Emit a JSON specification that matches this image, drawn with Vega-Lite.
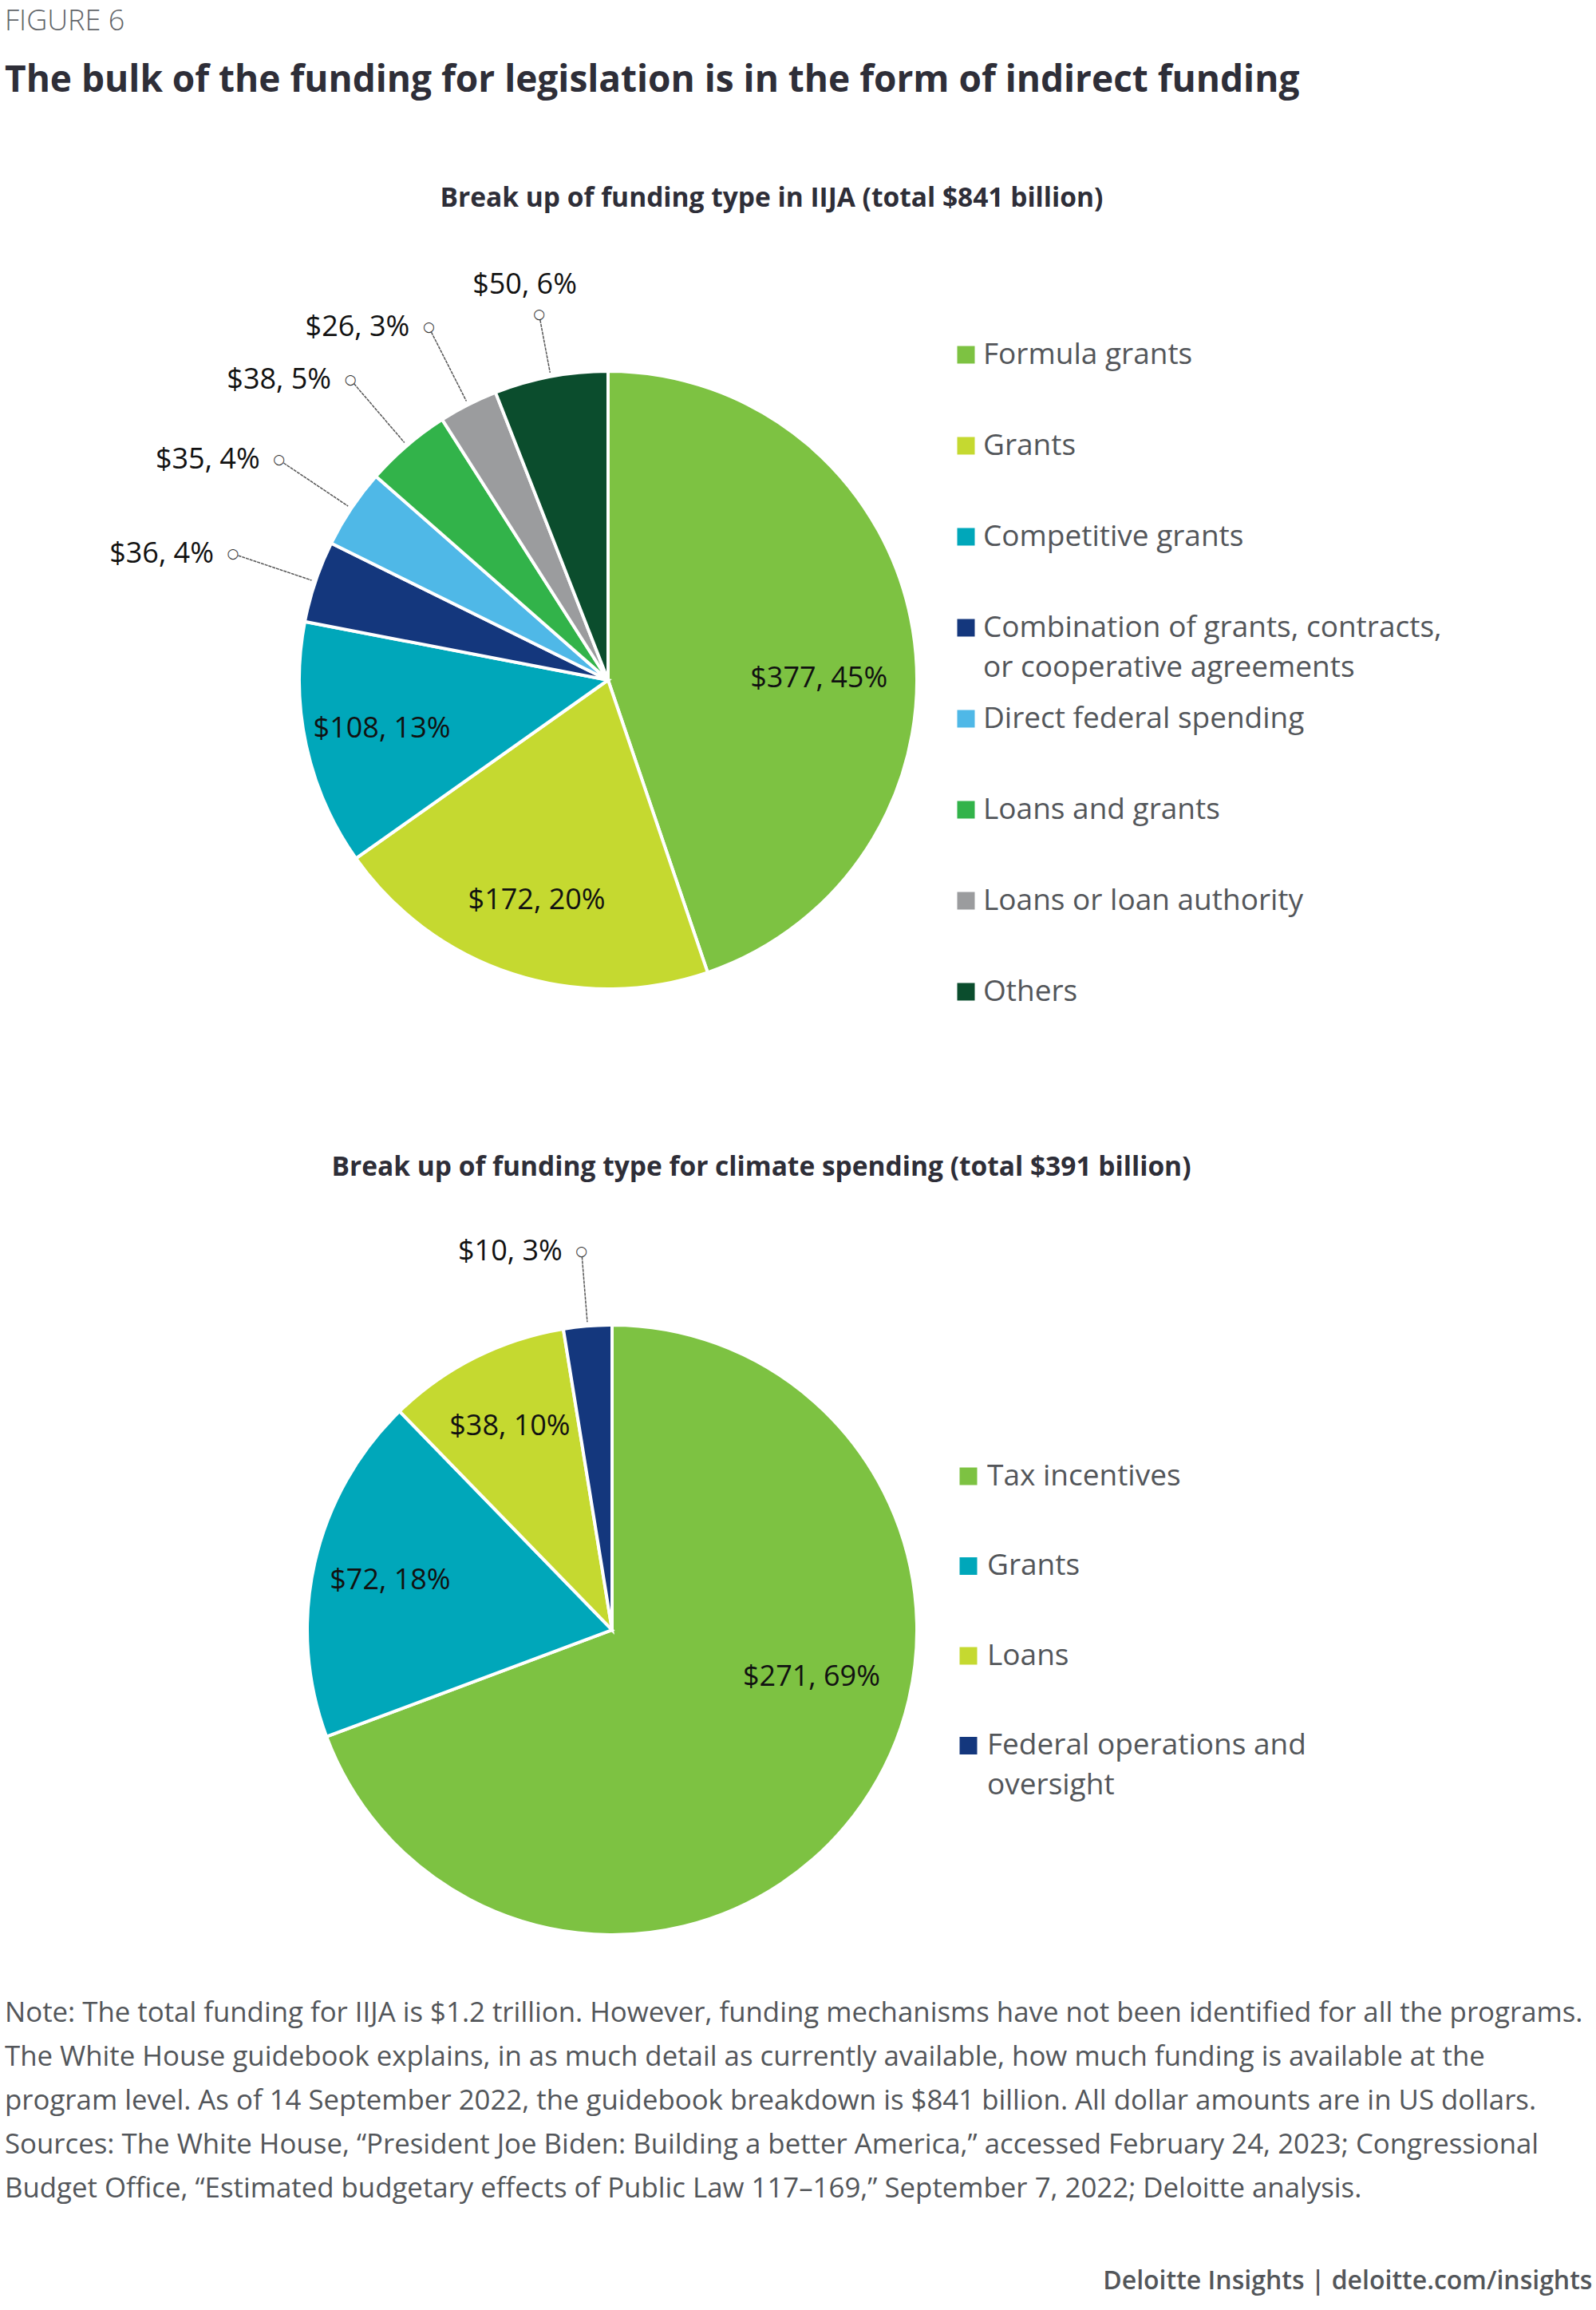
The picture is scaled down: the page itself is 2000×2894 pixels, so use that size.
{
  "$schema": "https://vega.github.io/schema/vega-lite/v6.json",
  "background": "white",
  "padding": {"left": 6, "top": 8, "right": 20, "bottom": 4},
  "config": {
    "view": {"stroke": null},
    "font": "Open Sans",
    "style": {"guide-label": {"lineHeight": 50}}
  },
  "title": {
    "text": "FIGURE 6",
    "subtitle": "The bulk of the funding for legislation is in the form of indirect funding",
    "anchor": "start",
    "frame": "group",
    "font": "Open Sans",
    "fontSize": 36,
    "fontWeight": 300,
    "color": "#63666a",
    "subtitleFont": "Open Sans",
    "subtitleFontSize": 46,
    "subtitleFontWeight": "bold",
    "subtitleColor": "#2e2e38",
    "subtitlePadding": 33,
    "offset": 107
  },
  "vconcat": [
    {
      "title": {
        "text": "Deloitte Insights | deloitte.com/insights",
        "orient": "bottom",
        "anchor": "end",
        "frame": "bounds",
        "font": "Open Sans",
        "fontSize": 32,
        "fontWeight": 600,
        "color": "#53565a",
        "offset": 83,
        "dx": 12
      },
      "vconcat": [
        {
          "title": {
            "text": [
              "Note: The total funding for IIJA is $1.2 trillion. However, funding mechanisms have not been identified for all the programs.",
              "The White House guidebook explains, in as much detail as currently available, how much funding is available at the",
              "program level. As of 14 September 2022, the guidebook breakdown is $841 billion. All dollar amounts are in US dollars.",
              "Sources: The White House, “President Joe Biden: Building a better America,” accessed February 24, 2023; Congressional",
              "Budget Office, “Estimated budgetary effects of Public Law 117–169,” September 7, 2022; Deloitte analysis."
            ],
            "orient": "bottom",
            "anchor": "start",
            "frame": "bounds",
            "font": "Open Sans",
            "fontSize": 34.8,
            "fontWeight": "normal",
            "color": "#53565a",
            "lineHeight": 55,
            "offset": 24
          },
          "resolve": {"scale": {"color": "independent", "theta": "independent"}, "legend": {"color": "independent"}},
          "spacing": 65,
          "vconcat": [
            {
              "width": 1512,
              "height": 1058,
              "title": {
                "text": "Break up of funding type in IIJA (total $841 billion)",
                "anchor": "middle",
                "frame": "group",
                "dx": 205,
                "font": "Open Sans",
                "fontSize": 33.5,
                "fontWeight": "bold",
                "color": "#2e2e38",
                "offset": 57
              },
              "data": {
                "values": [
                  {"rank": 1, "type": "Formula grants", "value": 377, "label": "$377, 45%"},
                  {"rank": 2, "type": "Grants", "value": 172, "label": "$172, 20%"},
                  {"rank": 3, "type": "Competitive grants", "value": 108, "label": "$108, 13%"},
                  {"rank": 4, "type": "Combination of grants, contracts, or cooperative agreements", "value": 36, "label": "$36, 4%"},
                  {"rank": 5, "type": "Direct federal spending", "value": 35, "label": "$35, 4%"},
                  {"rank": 6, "type": "Loans and grants", "value": 38, "label": "$38, 5%"},
                  {"rank": 7, "type": "Loans or loan authority", "value": 26, "label": "$26, 3%"},
                  {"rank": 8, "type": "Others", "value": 50, "label": "$50, 6%"}
                ]
              },
              "encoding": {
                "theta": {"field": "value", "type": "quantitative", "stack": true},
                "order": {"field": "rank", "type": "quantitative"},
                "detail": {"field": "type", "type": "nominal"}
              },
              "layer": [
                {
                  "mark": {"type": "arc", "outerRadius": 387, "stroke": "white", "strokeWidth": 4},
                  "encoding": {
                    "color": {
                      "field": "type",
                      "type": "nominal",
                      "scale": {
                        "domain": ["Formula grants", "Grants", "Competitive grants", "Combination of grants, contracts, or cooperative agreements", "Direct federal spending", "Loans and grants", "Loans or loan authority", "Others"],
                        "range": ["#7dc242", "#c5d930", "#00a7ba", "#14377d", "#4fb8e7", "#32b34a", "#9b9c9e", "#0b4d2d"]
                      },
                      "legend": {
                        "orient": "none",
                        "legendX": 1186,
                        "legendY": 103,
                        "title": null,
                        "symbolType": "square",
                        "symbolSize": 484,
                        "symbolStrokeWidth": 0,
                        "labelFont": "Open Sans",
                        "labelFontSize": 37,
                        "labelColor": "#53565a",
                        "labelOffset": 3,
                        "labelLimit": 900,
                        "rowPadding": 26,
                        "gridAlign": "all",
                        "labelExpr": "datum.label == 'Combination of grants, contracts, or cooperative agreements' ? ['Combination of grants, contracts,', 'or cooperative agreements'] : datum.label"
                      }
                    }
                  }
                },
                {
                  "mark": {"type": "arc", "innerRadius": 392, "outerRadius": 489, "padAngle": 3.14, "fill": null, "filled": false, "stroke": "#555555", "strokeWidth": 1.5, "strokeDash": [2, 3]},
                  "encoding": {
                    "strokeOpacity": {"condition": {"test": "datum.value < 60 && datum.type != 'Others'", "value": 1}, "value": 0}
                  }
                },
                {
                  "mark": {"type": "arc", "innerRadius": 392, "outerRadius": 459, "padAngle": 3.14, "fill": null, "filled": false, "stroke": "#555555", "strokeWidth": 1.5, "strokeDash": [2, 3]},
                  "encoding": {
                    "strokeOpacity": {"condition": {"test": "datum.type == 'Others'", "value": 1}, "value": 0}
                  }
                },
                {
                  "mark": {"type": "text", "radius": 290, "font": "Open Sans", "fontSize": 36, "color": "#111111", "align": "center", "baseline": "middle"},
                  "encoding": {
                    "text": {"field": "label", "type": "nominal"},
                    "opacity": {"condition": {"test": "datum.value >= 60 && datum.rank != 1", "value": 1}, "value": 0}
                  }
                },
                {
                  "mark": {"type": "text", "radius": 279, "font": "Open Sans", "fontSize": 36, "color": "#111111", "align": "center", "baseline": "middle", "dx": -11, "dy": 44},
                  "encoding": {
                    "text": {"field": "label", "type": "nominal"},
                    "opacity": {"condition": {"test": "datum.rank == 1", "value": 1}, "value": 0}
                  }
                },
                {
                  "mark": {"type": "text", "radius": 496, "font": "DejaVu Sans", "fontSize": 17, "color": "#333333", "align": "center", "baseline": "middle", "text": "○"},
                  "encoding": {
                    "opacity": {"condition": {"test": "datum.value < 60 && datum.type != 'Others'", "value": 1}, "value": 0}
                  }
                },
                {
                  "mark": {"type": "text", "radius": 466, "font": "DejaVu Sans", "fontSize": 17, "color": "#333333", "align": "center", "baseline": "middle", "text": "○"},
                  "encoding": {
                    "opacity": {"condition": {"test": "datum.type == 'Others'", "value": 1}, "value": 0}
                  }
                },
                {
                  "mark": {"type": "text", "radius": 496, "font": "Open Sans", "fontSize": 36, "color": "#111111", "align": "right", "baseline": "middle", "dx": -24},
                  "encoding": {
                    "text": {"field": "label", "type": "nominal"},
                    "opacity": {"condition": {"test": "datum.value < 60 && datum.type != 'Others'", "value": 1}, "value": 0}
                  }
                },
                {
                  "mark": {"type": "text", "radius": 466, "font": "Open Sans", "fontSize": 36, "color": "#111111", "align": "center", "baseline": "middle", "dx": -18, "dy": -37},
                  "encoding": {
                    "text": {"field": "label", "type": "nominal"},
                    "opacity": {"condition": {"test": "datum.type == 'Others'", "value": 1}, "value": 0}
                  }
                }
              ]
            },
            {
              "width": 1522,
              "height": 880,
              "title": {
                "text": "Break up of funding type for climate spending (total $391 billion)",
                "anchor": "middle",
                "frame": "group",
                "dx": 187,
                "font": "Open Sans",
                "fontSize": 33.5,
                "fontWeight": "bold",
                "color": "#2e2e38",
                "offset": 69
              },
              "data": {
                "values": [
                  {"rank": 1, "type": "Tax incentives", "value": 271, "label": "$271, 69%"},
                  {"rank": 2, "type": "Grants", "value": 72, "label": "$72, 18%"},
                  {"rank": 3, "type": "Loans", "value": 38, "label": "$38, 10%"},
                  {"rank": 4, "type": "Federal operations and oversight", "value": 10, "label": "$10, 3%"}
                ]
              },
              "encoding": {
                "theta": {"field": "value", "type": "quantitative", "stack": true},
                "order": {"field": "rank", "type": "quantitative"},
                "detail": {"field": "type", "type": "nominal"}
              },
              "layer": [
                {
                  "mark": {"type": "arc", "outerRadius": 382, "stroke": "white", "strokeWidth": 4},
                  "encoding": {
                    "color": {
                      "field": "type",
                      "type": "nominal",
                      "scale": {
                        "domain": ["Tax incentives", "Grants", "Loans", "Federal operations and oversight"],
                        "range": ["#7dc242", "#00a7ba", "#c5d930", "#14377d"]
                      },
                      "legend": {
                        "orient": "none",
                        "legendX": 1189,
                        "legendY": 229,
                        "title": null,
                        "symbolType": "square",
                        "symbolSize": 484,
                        "symbolStrokeWidth": 0,
                        "labelFont": "Open Sans",
                        "labelFontSize": 37,
                        "labelColor": "#53565a",
                        "labelOffset": 5,
                        "labelLimit": 900,
                        "rowPadding": 24.5,
                        "gridAlign": "all",
                        "labelExpr": "datum.label == 'Federal operations and oversight' ? ['Federal operations and', 'oversight'] : datum.label"
                      }
                    }
                  }
                },
                {
                  "mark": {"type": "arc", "innerRadius": 387, "outerRadius": 469, "padAngle": 3.14, "fill": null, "filled": false, "stroke": "#555555", "strokeWidth": 1.5, "strokeDash": [2, 3]},
                  "encoding": {
                    "strokeOpacity": {"condition": {"test": "datum.value < 20", "value": 1}, "value": 0}
                  }
                },
                {
                  "mark": {"type": "text", "radius": 285, "font": "Open Sans", "fontSize": 36, "color": "#111111", "align": "center", "baseline": "middle"},
                  "encoding": {
                    "text": {"field": "label", "type": "nominal"},
                    "opacity": {"condition": {"test": "datum.value >= 20 && datum.rank != 1", "value": 1}, "value": 0}
                  }
                },
                {
                  "mark": {"type": "text", "radius": 275, "font": "Open Sans", "fontSize": 36, "color": "#111111", "align": "center", "baseline": "middle", "dx": 24, "dy": -98},
                  "encoding": {
                    "text": {"field": "label", "type": "nominal"},
                    "opacity": {"condition": {"test": "datum.rank == 1", "value": 1}, "value": 0}
                  }
                },
                {
                  "mark": {"type": "text", "radius": 476, "font": "DejaVu Sans", "fontSize": 17, "color": "#333333", "align": "center", "baseline": "middle", "text": "○"},
                  "encoding": {
                    "opacity": {"condition": {"test": "datum.value < 20", "value": 1}, "value": 0}
                  }
                },
                {
                  "mark": {"type": "text", "radius": 476, "font": "Open Sans", "fontSize": 36, "color": "#111111", "align": "right", "baseline": "middle", "dx": -24},
                  "encoding": {
                    "text": {"field": "label", "type": "nominal"},
                    "opacity": {"condition": {"test": "datum.value < 20", "value": 1}, "value": 0}
                  }
                }
              ]
            }
          ]
        }
      ]
    }
  ]
}
